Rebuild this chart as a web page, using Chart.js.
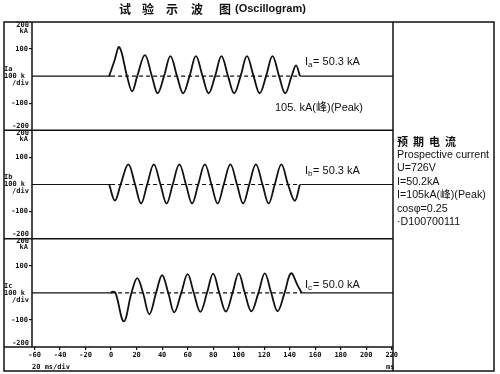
<!DOCTYPE html>
<html>
<head>
<meta charset="utf-8">
<script src="https://cdn.jsdelivr.net/npm/chart.js@4.4.0/dist/chart.umd.min.js"></script>
<style>
  html,body{margin:0;padding:0;background:#fff}
  #wrap{width:500px;height:374px}
</style>
</head>
<body>
<div id="wrap"><canvas id="osc" width="500" height="374"></canvas></div>
<script>
// time axis (ms) and current axis (kA)
const xTicks = [-60,-40,-20,0,20,40,60,80,100,120,140,160,180,200,220];
const yTicks = [200,100,0,-100,-200];

// waveform key points: [ms, kA]
const phaseA = [[-1.5,0],[2.5,55],[6.5,107],[12.5,0],[16.5,-56],[20.5,0],[26.5,78],[32,0],[36.5,-63],[41.5,0],
  [46.5,74],[51.7,0],[56.5,-63],[61.5,0],[66.5,74],[71.7,0],[76.5,-63],[81.5,0],[86.5,74],[91.7,0],[96.5,-63],[101.5,0],
  [106.5,74],[111.7,0],[116.5,-63],[121.5,0],[126.5,74],[131.7,0],[136.5,-63],[141.5,0],[145,40],[148,0]];
const phaseB = [[-1.5,0],[3,-59],[7.5,0],[13.5,74],[18.8,0],[23.5,-70],[28.3,0],[33.5,74],[38.7,0],[43.5,-70],[48.3,0],
  [53.5,74],[58.7,0],[63.5,-70],[68.3,0],[73.5,74],[78.7,0],[83.5,-70],[88.3,0],[93.5,74],[98.7,0],[103.5,-70],[108.3,0],
  [113.5,74],[118.7,0],[123.5,-70],[128.3,0],[133.5,74],[138.7,0],[144,-60],[148,0]];
const phaseC = [[-0.5,0],[1.5,4],[3.5,0],[10,-105],[16,0],[20.5,54],[25,0],[30,-79],[35.3,0],[40,65],[44.8,0],
  [49.5,-72],[55,0],[60,69],[64.8,0],[70,-70],[75.2,0],[80,71],[84.8,0],[90,-69],[95.2,0],[100,72],[104.8,0],
  [110,-68],[115.5,0],[120.5,72],[125.5,0],[130.5,-68],[136,0],[141,72],[146.5,25],[149.5,0]];
// zero reference: solid, dashed while current flows, solid again
const zeroLine = [[-62,0],[0,0],[149,0],[221,0]];

const panelNames = ['a','b','c'];
const rmsLabels = ['50.3','50.3','50.0'];
const peakLabel = '105. kA(峰)(Peak)';
const sideTitle = '预  期  电  流';
const sideLines = ['Prospective current','U=726V','I=50.2kA','I=105kA(峰)(Peak)','cosφ=0.25','·D100700111'];

const INK = '#111';
const tickFont = {family:'DejaVu Sans Mono', size:7, weight:'bold'};
const pts = arr => arr.map(([x,y]) => ({x,y}));

const wave = (data, axis) => ({data:pts(data), yAxisID:axis, borderColor:INK, borderWidth:1.8,
  pointRadius:0, tension:0.38, fill:false});
const zero = axis => ({data:pts(zeroLine), yAxisID:axis, borderColor:INK, borderWidth:1.2, pointRadius:0,
  segment:{borderDash: c => c.p0DataIndex === 1 ? [4,3] : undefined}});

const yAxis = () => ({
  type:'linear', position:'left', stack:'osc', stackWeight:1, min:-200, max:200,
  afterBuildTicks: s => { s.ticks = yTicks.map(v => ({value:v})); },
  afterFit: s => { s.width = 28; },
  border:{display:false},
  grid:{drawOnChartArea:false, tickLength:3, lineWidth:1.2,
    color: c => (c.tick && Math.abs(c.tick.value) === 100) ? INK : 'rgba(0,0,0,0)'},
  ticks:{autoSkip:false, padding:1, font:tickFont, color:INK,
    callback: v => Math.abs(v) === 100 ? String(v) : ''}
});

const frame = {
  id:'frame',
  afterDraw(chart) {
    const ctx = chart.ctx, ca = chart.chartArea;
    const L = 4, R = 494, T = 22, B = 371, D = ca.right;
    ctx.save();
    ctx.strokeStyle = INK; ctx.fillStyle = INK; ctx.lineWidth = 1.5;
    const line = (x1,y1,x2,y2) => { ctx.beginPath(); ctx.moveTo(x1,y1); ctx.lineTo(x2,y2); ctx.stroke(); };
    ctx.strokeRect(L, T, R-L, B-T);
    line(D, T, D, B);
    line(ca.left, T, ca.left, ca.bottom);
    line(L, ca.bottom, D, ca.bottom);

    // title
    ctx.textBaseline = 'middle'; ctx.textAlign = 'left';
    ctx.font = 'bold 12px "Noto Sans CJK SC"';
    [['试',119],['验',142],['示',166],['波',191],['图',219]].forEach(([t,x]) => ctx.fillText(t, x, 9));
    ctx.font = 'bold 11px "Liberation Sans"';
    ctx.fillText('(Oscillogram)', 235, 9);

    // per-panel labels
    ['ya','yb','yc'].forEach((id, i) => {
      const s = chart.scales[id];
      if (i > 0) line(L, s.top, D, s.top);
      const mid = s.getPixelForValue(0);
      ctx.font = 'bold 7px "DejaVu Sans Mono"';
      ctx.textAlign = 'right';
      ctx.fillText('200', 29, s.top + 3);
      ctx.fillText('kA', 28, s.top + 9);
      ctx.fillText('-200', 29, s.bottom - 4);
      ctx.textAlign = 'left';
      ctx.fillText('I' + panelNames[i], 4, mid - 7);
      ctx.fillText('100 k', 4, mid);
      ctx.fillText('/div', 12, mid + 7);

      // RMS annotation with subscript
      const x0 = 305, y0 = s.getPixelForValue(i === 0 ? 52 : (i === 1 ? 50 : 28));
      ctx.font = '11px "Liberation Sans"';
      ctx.fillText('I', x0, y0);
      const w = ctx.measureText('I').width;
      ctx.font = '8px "Liberation Sans"';
      ctx.fillText(panelNames[i], x0 + w, y0 + 3);
      ctx.font = '11px "Liberation Sans"';
      ctx.fillText('= ' + rmsLabels[i] + ' kA', x0 + w + 5, y0);
    });
    ctx.font = '11px "Liberation Sans", "Noto Sans CJK SC"';
    ctx.fillText(peakLabel, 275, chart.scales.ya.getPixelForValue(-118));

    // axis captions
    ctx.font = 'bold 7px "DejaVu Sans Mono"';
    ctx.fillText('20 ms/div', 32, 367);
    ctx.fillText('ms', 386, 367);

    // prospective current block
    ctx.font = 'bold 11px "Noto Sans CJK SC"';
    ctx.fillText(sideTitle, 397, 142);
    ctx.font = '10.7px "Liberation Sans", "Noto Sans CJK SC"';
    sideLines.forEach((t, k) => ctx.fillText(t, 397, 155 + k * 13.4));
    ctx.restore();
  }
};

new Chart(document.getElementById('osc'), {
  type:'line',
  data:{datasets:[
    zero('ya'), wave(phaseA,'ya'),
    zero('yb'), wave(phaseB,'yb'),
    zero('yc'), wave(phaseC,'yc')
  ]},
  options:{
    responsive:false, animation:false, devicePixelRatio:1,
    layout:{padding:{left:4, top:22, right:107, bottom:0}},
    plugins:{legend:{display:false}, tooltip:{enabled:false}},
    scales:{
      x:{type:'linear', min:-62, max:221,
        afterBuildTicks: s => { s.ticks = xTicks.map(v => ({value:v})); },
        afterFit: s => { s.height = 27; },
        border:{display:false},
        grid:{drawOnChartArea:false, tickLength:3, color:INK, lineWidth:1.2},
        ticks:{autoSkip:false, maxRotation:0, padding:1, font:tickFont, color:INK}},
      yc:yAxis(), yb:yAxis(), ya:yAxis()
    }
  },
  plugins:[frame]
});
</script>
</body>
</html>
